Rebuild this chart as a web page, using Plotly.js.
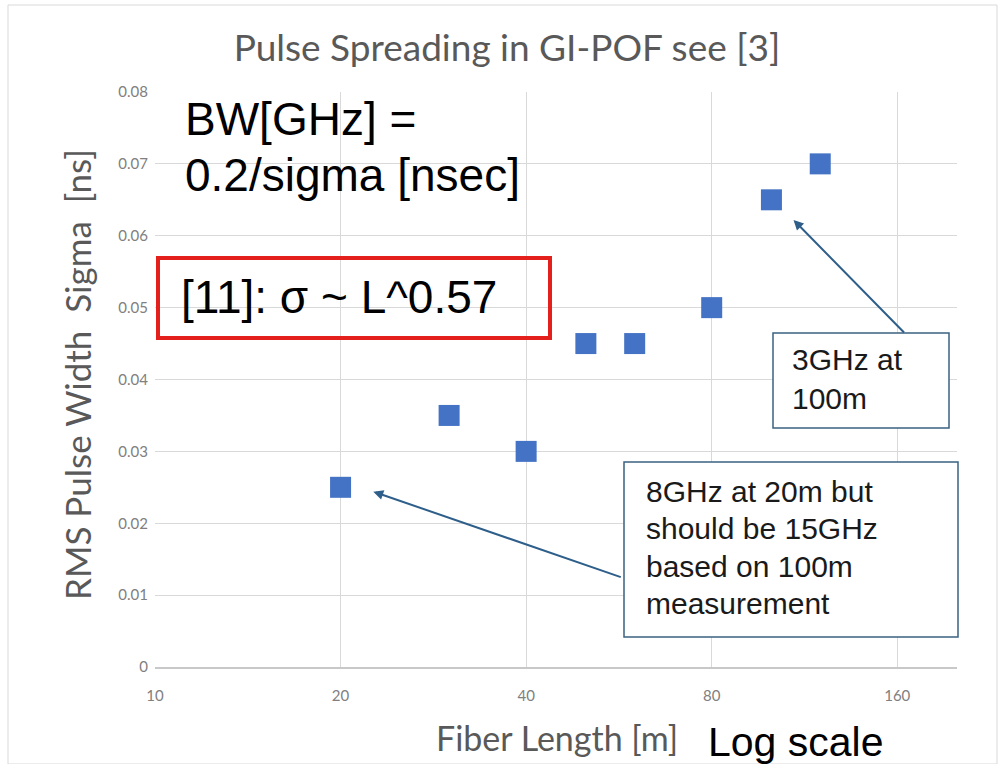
<!DOCTYPE html>
<html>
<head>
<meta charset="utf-8">
<script src="https://cdn.plot.ly/plotly-3.0.1.min.js"></script>
<style>html,body{margin:0;padding:0;background:#fff;}#chart{width:998px;height:764px;}</style>
</head>
<body>
<div id="chart"></div>
<script>
// Data
var fiberLength = [20, 30, 40, 50, 60, 80, 100, 120];          // m
var sigmaNs     = [0.025, 0.035, 0.030, 0.045, 0.045, 0.050, 0.065, 0.070]; // ns
var xTickVals   = [10, 20, 40, 80, 160];
var xTickText   = ['10', '20', '40', '80', '160'];

var titleText  = 'Pulse Spreading in GI-POF see [3]';
var xTitleText = 'Fiber Length [m]';
var yTitleText = 'RMS Pulse Width\u00a0\u00a0Sigma\u00a0\u00a0[ns]';

var calib = 'Lato, "Open Sans", sans-serif';
var arial = '"Liberation Sans", Arial, sans-serif';
var arrowColor = '#2e5e8a';
var boxColor = '#3b6283';

// plot area in pixels: left 155, right 957, top 92, bottom 667
function px(x) { return (x - 155) / 802; }
function py(y) { return (667 - y) / 575; }

function label(text, x, yc, size, color) {
  return {xref: 'paper', yref: 'paper', x: px(x), y: py(yc), xanchor: 'left', yanchor: 'middle',
          align: 'left', showarrow: false, text: text,
          font: {family: arial, size: size, color: color || '#000000'}};
}

var trace = {
  x: fiberLength, y: sigmaNs, type: 'scatter', mode: 'markers',
  marker: {symbol: 'square', size: 21, color: '#4472C4'},
  hoverinfo: 'x+y', showlegend: false
};

var layout = {
  width: 998, height: 764,
  margin: {l: 155, r: 41, t: 92, b: 97},
  paper_bgcolor: '#ffffff', plot_bgcolor: '#ffffff',
  title: {text: titleText, x: 0.508, xref: 'container', xanchor: 'center',
          y: 0.937, yref: 'container', yanchor: 'middle',
          font: {family: calib, size: 37, color: '#595959'}},
  xaxis: {
    type: 'log', range: [Math.log10(10), Math.log10(200)],
    tickmode: 'array', tickvals: xTickVals, ticktext: xTickText,
    showgrid: true, gridcolor: '#d9d9d9', gridwidth: 1,
    showline: true, linecolor: '#c8c8c8', linewidth: 2,
    zeroline: false, ticks: '', ticklabelstandoff: 14,
    tickfont: {family: calib, size: 15, color: '#808080'}
  },
  yaxis: {
    range: [0, 0.08], dtick: 0.01, tick0: 0,
    showgrid: true, gridcolor: '#d9d9d9', gridwidth: 1,
    showline: false, zeroline: false, ticks: '', ticklabelstandoff: 6,
    tickfont: {family: calib, size: 15, color: '#808080'}
  },
  shapes: [
    {type: 'rect', xref: 'paper', yref: 'paper', x0: px(8), x1: px(997), y0: py(764), y1: py(5),
     line: {color: '#d9d9d9', width: 1}, fillcolor: 'rgba(0,0,0,0)', layer: 'below'},
    {type: 'rect', xref: 'paper', yref: 'paper', x0: px(158), x1: px(550), y0: py(338), y1: py(258),
     line: {color: '#e3201b', width: 4}, fillcolor: 'rgba(0,0,0,0)'},
    {type: 'rect', xref: 'paper', yref: 'paper', x0: px(773), x1: px(949), y0: py(428), y1: py(333),
     line: {color: boxColor, width: 1.5}, fillcolor: '#ffffff'},
    {type: 'rect', xref: 'paper', yref: 'paper', x0: px(624), x1: px(958), y0: py(637), y1: py(462),
     line: {color: boxColor, width: 1.5}, fillcolor: '#ffffff'}
  ],
  annotations: [
    {xref: 'paper', yref: 'paper', x: px(557), y: py(737), xanchor: 'center', yanchor: 'middle',
     showarrow: false, text: xTitleText, font: {family: calib, size: 34, color: '#595959'}},
    {xref: 'paper', yref: 'paper', x: px(77), y: py(375), xanchor: 'center', yanchor: 'middle',
     textangle: -90, showarrow: false, text: yTitleText,
     font: {family: calib, size: 35, color: '#595959'}},
    label('BW[GHz] =', 183, 119, 46),
    label('0.2/sigma [nsec]', 183, 175, 46),
    label('[11]: \u03c3 ~ L^0.57', 179, 297, 46),
    label('3GHz at', 790, 359, 30, '#1a1a1a'),
    label('100m', 790, 398, 30, '#1a1a1a'),
    label('8GHz at 20m but', 644, 491, 30, '#1a1a1a'),
    label('should be 15GHz', 644, 528, 30, '#1a1a1a'),
    label('based on 100m', 644, 566, 30, '#1a1a1a'),
    label('measurement', 644, 603, 30, '#1a1a1a'),
    {xref: 'x', yref: 'y', x: Math.log10(22.6), y: 0.0244, ax: 249, ay: 86, text: '',
     showarrow: true, arrowhead: 2, arrowsize: 1, arrowwidth: 2, arrowcolor: arrowColor, standoff: 0},
    {xref: 'x', yref: 'y', x: Math.log10(108.6), y: 0.0622, ax: 112, ay: 114, text: '',
     showarrow: true, arrowhead: 2, arrowsize: 1, arrowwidth: 2, arrowcolor: arrowColor, standoff: 0},
    label('Log scale', 706, 742, 41)
  ]
};

Plotly.newPlot('chart', [trace], layout, {displayModeBar: false, staticPlot: true});
</script>
</body>
</html>
